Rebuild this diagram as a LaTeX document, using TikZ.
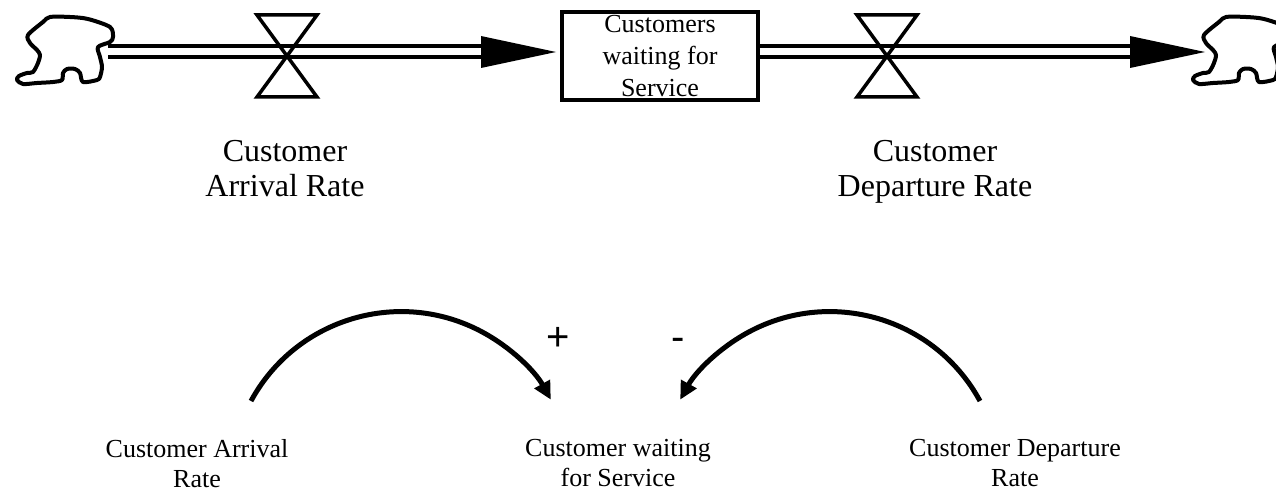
\documentclass[tikz,border=0pt]{standalone}
\usepackage{fontspec}
\setmainfont{Liberation Serif}
\newfontfamily\signfont{Liberation Sans}
\usetikzlibrary{arrows.meta,calc}

\tikzset{
  outline/.style={line width=4pt, line join=round, line cap=round},
  pipe/.style={line width=4pt, double, double distance=7pt},
  valve/.style={line width=3.5pt, line join=miter},
  stock/.style={draw, line width=3.5pt, minimum width=196pt, minimum height=88pt,
    inner sep=0pt, align=center, font=\fontsize{26}{32}\selectfont},
  ratelabel/.style={align=center, inner sep=0pt, font=\fontsize{32}{35}\selectfont},
  varlabel/.style={align=center, inner sep=0pt, font=\fontsize{26}{30}\selectfont},
  sign/.style={inner sep=0pt, anchor=base, font=\signfont\fontsize{40}{44}\selectfont},
  link/.style={line width=5pt, -{Triangle[length=18pt, width=17pt]}},
  cloudshape/.pic={
    \draw[outline] plot[smooth cycle, tension=0.5] coordinates {
      (28,35) (43,22) (50,17) (70,17) (88,19) (110,27) (113,37) (110,42)
      (98,47) (100,57) (102,67) (100,77) (97,80) (83,82) (80,73) (75,69)
      (67,69) (63,73) (62,80) (53,82) (37,83) (23,84) (17,80) (19,76)
      (27,73) (33,72) (38,63) (40,55) (37,50) (30,43)};
  },
  hourglass/.pic={
    \draw[valve] (-30,-41) -- (30,-41) -- (-30,41) -- (30,41) -- cycle;
  }
}

\begin{document}
\begin{tikzpicture}[x=1pt, y=-1pt]
  \useasboundingbox (0,0) rectangle (1276,492);

  % sources and sinks
  \pic at (0,0) {cloudshape};
  \pic at (1176,0) {cloudshape};
  \coordinate (cloudL) at (108,52);

  % stock
  \node[stock] (box) at (660,56) {Customers\\waiting for\\Service};

  % flow pipes and arrowheads
  \coordinate (headL) at (481,52);
  \coordinate (headR) at (1130,52);
  \draw[pipe] (cloudL) -- (headL);
  \draw[pipe] (box.east |- headR) -- (headR);
  \fill (headL) ++(0,-16) -- ++(75,16) -- ++(-75,16) -- cycle;
  \fill (headR) ++(0,-16) -- ++(75,16) -- ++(-75,16) -- cycle;

  % valves
  \coordinate (valveL) at (287,56);
  \coordinate (valveR) at (887,56);
  \pic at (valveL) {hourglass};
  \pic at (valveR) {hourglass};

  % rate labels
  \node[ratelabel, anchor=north] (arr) at (285,140) {Customer\\Arrival Rate};
  \node[ratelabel, anchor=north] (dep) at (935,140) {Customer\\Departure Rate};

  % causal loop diagram
  \node[varlabel, anchor=north] (carr) at (197,439) {Customer Arrival\\Rate};
  \node[varlabel, anchor=north] (cwait) at (618,439) {Customer waiting\\for Service};
  \node[varlabel, anchor=north] (cdep) at (1015,439) {Customer Departure\\Rate};

  \coordinate (s1) at (251,401);
  \coordinate (s2) at (980,401);
  \draw[link] (s1) arc[start angle=-151.5, end angle=-29, radius=171];
  \draw[link] (s2) arc[start angle=-28.5, end angle=-151, radius=171];

  \node[sign] (plus) at (558,350) {+};
  \node[sign] (minus) at (678,350) {-};
\end{tikzpicture}
\end{document}
